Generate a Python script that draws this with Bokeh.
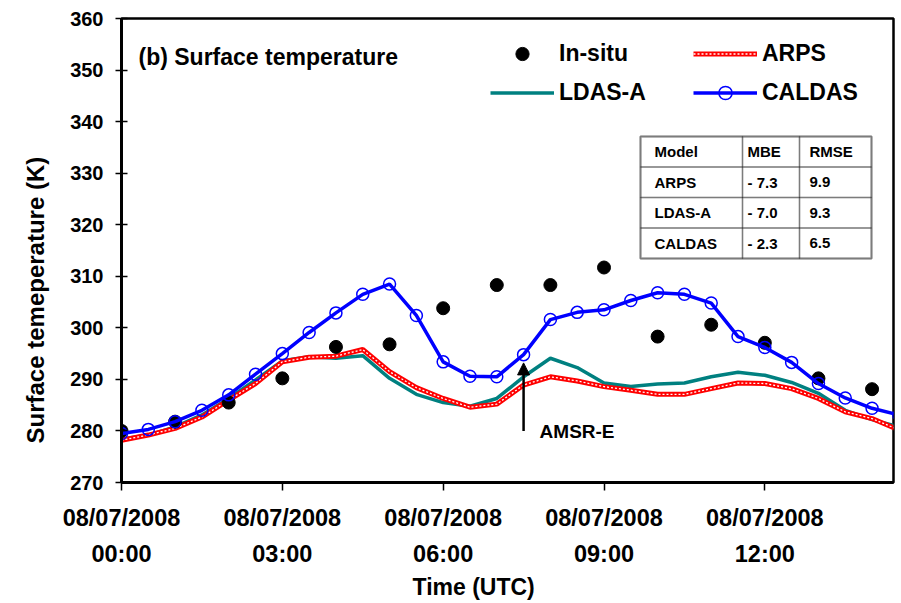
from bokeh.plotting import figure
from bokeh.models import (Range1d, FixedTicker, Legend, LegendItem, Label,
                          BoxAnnotation, Arrow, NormalHead, Title)
from bokeh.embed import file_html
from bokeh.resources import INLINE

# ---------------- data ----------------
insitu_hours = [0, 1, 2, 3, 4, 5, 6, 7, 8, 9, 10, 11, 12, 13, 14]
insitu = [280.0, 281.8, 285.5, 290.2, 296.3, 296.8, 303.8, 308.3, 308.3,
          311.7, 298.3, 300.6, 297.1, 290.2, 288.1]

model_hours = [0.0, 0.5, 1.0, 1.5, 2.0, 2.5, 3.0, 3.5, 4.0, 4.5, 5.0, 5.5,
               6.0, 6.5, 7.0, 7.5, 8.0, 8.5, 9.0, 9.5, 10.0, 10.5, 11.0,
               11.5, 12.0, 12.5, 13.0, 13.5, 14.0, 14.5]
arps = [278.2, 279.2, 280.5, 282.7, 286.0, 289.2, 293.4, 294.3, 294.5, 295.8,
        291.5, 288.4, 286.3, 284.6, 285.2, 288.9, 290.5, 289.7, 288.6, 287.9,
        287.1, 287.1, 288.2, 289.3, 289.2, 288.2, 286.3, 283.7, 282.4, 280.2]
ldas_a = [278.4, 279.2, 280.8, 283.1, 286.3, 289.9, 293.6, 294.4, 294.1, 294.6,
          290.2, 287.1, 285.5, 284.8, 286.3, 290.5, 294.1, 292.3, 289.3, 288.6,
          289.1, 289.3, 290.5, 291.4, 290.8, 289.4, 287.3, 284.0, 282.2, 280.8]
caldas = [279.5, 280.3, 281.8, 284.0, 287.0, 291.0, 295.0, 299.1, 302.9, 306.5,
          308.5, 302.4, 293.4, 290.6, 290.5, 294.8, 301.6, 303.0, 303.5, 305.3,
          306.8, 306.5, 304.8, 298.3, 296.2, 293.3, 289.2, 286.4, 284.4, 283.1]

tick_hours = [0, 3, 6, 9, 12]
tick_labels = ["08/07/2008\n00:00", "08/07/2008\n03:00", "08/07/2008\n06:00",
               "08/07/2008\n09:00", "08/07/2008\n12:00"]
y_ticks = [270, 280, 290, 300, 310, 320, 330, 340, 350, 360]

table_header = ["Model", "MBE", "RMSE"]
table_models = ["ARPS", "LDAS-A", "CALDAS"]
table_mbe = ["- 7.3", "- 7.0", "- 2.3"]
table_rmse = ["9.9", "9.3", "6.5"]

amsr_hour = 7.5
amsr_from, amsr_to = 280.0, 293.2

FONT = "Liberation Sans"

# ---------------- figure ----------------
p = figure(width=901, height=603, output_backend="svg", toolbar_location=None,
           x_range=Range1d(0, 14.4), y_range=Range1d(270, 360),
           min_border_left=121, min_border_right=8, min_border_top=18,
           min_border_bottom=121)
p.xgrid.visible = False
p.ygrid.visible = False
p.outline_line_color = "black"
p.outline_line_width = 2.5
p.background_fill_color = "white"
p.border_fill_color = "white"

xa = p.xaxis[0]
xa.ticker = FixedTicker(ticks=tick_hours)
xa.major_label_overrides = {float(h): t for h, t in zip(tick_hours, tick_labels)}
xa.axis_line_width = 3
xa.major_tick_in = 0
xa.major_tick_out = 8
xa.major_tick_line_width = 1.5
xa.minor_tick_line_color = None
xa.major_label_standoff = 14
xa.major_label_text_font = FONT
xa.major_label_text_font_style = "bold"
xa.major_label_text_font_size = "23.5px"
xa.major_label_text_color = "black"
xa.major_label_text_line_height = 1.4

ya = p.yaxis[0]
ya.ticker = FixedTicker(ticks=y_ticks)
ya.axis_line_width = 3
ya.major_tick_in = 6
ya.major_tick_out = 6
ya.major_tick_line_width = 1.5
ya.minor_tick_line_color = None
ya.major_label_standoff = 12
ya.major_label_text_font = FONT
ya.major_label_text_font_style = "bold"
ya.major_label_text_font_size = "20px"
ya.major_label_text_color = "black"

# axis titles
p.add_layout(Title(text="Time (UTC)", align="left", offset=291, standoff=4,
                   text_font=FONT, text_font_style="bold",
                   text_font_size="23px", text_color="black"), "below")
p.add_layout(Title(text="Surface temeperature (K)", align="left", offset=39,
                   standoff=38, text_font=FONT, text_font_style="bold",
                   text_font_size="24px", text_color="black"), "left")

# ---------------- series ----------------
r_ldas = p.line(model_hours, ldas_a, line_color="#008080", line_width=3.5)
r_arps1 = p.line(model_hours, arps, line_color="#FF0000", line_width=5)
r_arps2 = p.line(model_hours, arps, line_color="white", line_width=1.3,
                 line_dash="2 2")
r_insitu = p.scatter(insitu_hours, insitu, size=13, marker="circle",
                     fill_color="black", line_color="black")
r_cal_line = p.line(model_hours, caldas, line_color="#0000FF", line_width=3.5)
r_cal_pts = p.scatter(model_hours, caldas, size=12, marker="circle",
                      fill_alpha=0, line_color="#0000FF", line_width=1.5)

# ---------------- legend ----------------
legend = Legend(items=[
    LegendItem(label="In-situ", renderers=[r_insitu]),
    LegendItem(label="ARPS", renderers=[r_arps1, r_arps2]),
    LegendItem(label="LDAS-A", renderers=[r_ldas]),
    LegendItem(label="CALDAS", renderers=[r_cal_line, r_cal_pts]),
], orientation="horizontal", ncols=2, nrows=2)
legend.location = (369, 373)
legend.glyph_width = 64
legend.glyph_height = 33
legend.label_height = 33
legend.label_width = 128
legend.label_standoff = 5
legend.spacing = 6
legend.padding = 0
legend.margin = 0
legend.border_line_alpha = 0
legend.background_fill_alpha = 0
legend.label_text_font = FONT
legend.label_text_font_style = "bold"
legend.label_text_font_size = "23px"
legend.label_text_color = "black"
p.add_layout(legend, "center")

# ---------------- texts ----------------
p.add_layout(Label(x=17, y=426, x_units="screen", y_units="screen",
                   text="(b) Surface temperature", text_font=FONT,
                   text_font_style="bold", text_font_size="23px",
                   text_baseline="middle", text_color="black"))

# AMSR-E arrow
p.add_layout(Arrow(x_start=amsr_hour, y_start=amsr_from, x_end=amsr_hour,
                   y_end=amsr_to, line_width=2.5, line_color="black",
                   end=NormalHead(size=12, fill_color="black",
                                  line_color="black")))
p.add_layout(Label(x=amsr_hour, y=amsr_from, x_offset=16, y_offset=-1,
                   text="AMSR-E", text_font=FONT, text_font_style="bold",
                   text_font_size="19px", text_baseline="middle",
                   text_color="black"))

# ---------------- statistics table ----------------
tbl_left = 519
tbl_top = 346
col_w = [102, 57, 72]
col_pad = [14, 5, 10]
row_h = 30.5
rows = [table_header] + [list(r) for r in zip(table_models, table_mbe, table_rmse)]
x_edges = [tbl_left]
for w in col_w:
    x_edges.append(x_edges[-1] + w)
for ri, row in enumerate(rows):
    top = tbl_top - ri * row_h
    bot = top - row_h
    for ci, txt in enumerate(row):
        p.add_layout(BoxAnnotation(left=x_edges[ci], right=x_edges[ci + 1],
                                   top=top, bottom=bot, left_units="screen",
                                   right_units="screen", top_units="screen",
                                   bottom_units="screen", fill_alpha=0,
                                   line_color="black", line_width=1.5))
        p.add_layout(Label(x=x_edges[ci] + col_pad[ci], y=(top + bot) / 2,
                           x_units="screen", y_units="screen", text=txt,
                           text_font=FONT, text_font_style="bold",
                           text_font_size="15px", text_baseline="middle",
                           text_color="black"))
p.add_layout(BoxAnnotation(left=x_edges[0], right=x_edges[-1], top=tbl_top,
                           bottom=tbl_top - row_h * len(rows),
                           left_units="screen", right_units="screen",
                           top_units="screen", bottom_units="screen",
                           fill_alpha=0, line_color="black", line_width=2.5))

open("out.html", "w").write(file_html(p, INLINE))
